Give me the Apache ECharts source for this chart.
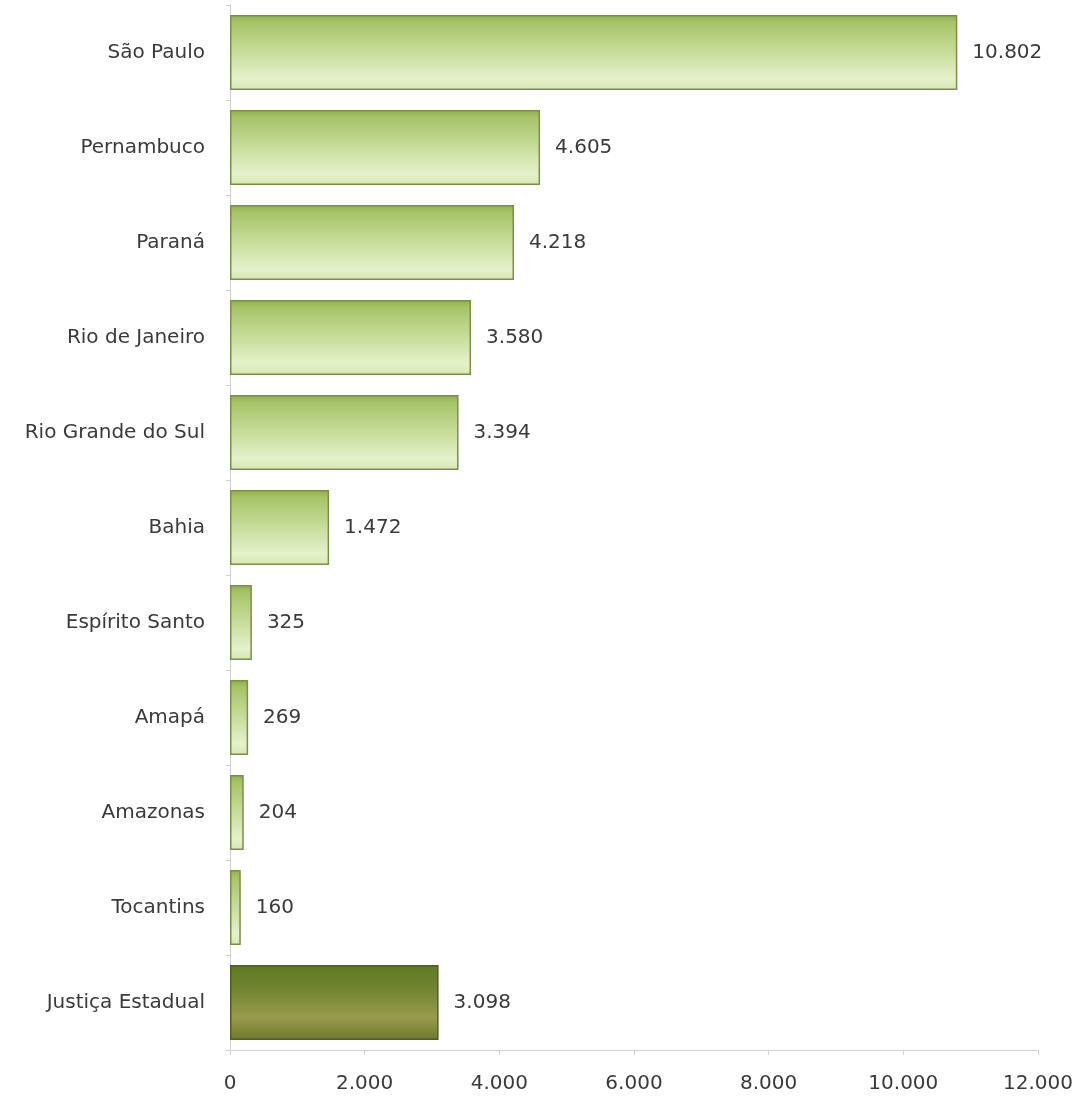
<!DOCTYPE html>
<html>
<head>
<meta charset="utf-8">
<script src="https://cdn.jsdelivr.net/npm/echarts@6/dist/echarts.min.js"></script>
<style>
html,body{margin:0;padding:0;background:#fff;}
#chart{width:1081px;height:1101px;}
</style>
</head>
<body>
<div id="chart"></div>
<script>
// States ranked by count, with the state-court total last
const categories = ['São Paulo','Pernambuco','Paraná','Rio de Janeiro','Rio Grande do Sul','Bahia','Espírito Santo','Amapá','Amazonas','Tocantins','Justiça Estadual'];
const values = [10802, 4605, 4218, 3580, 3394, 1472, 325, 269, 204, 160, 3098];
const xTicks = [0, 2000, 4000, 6000, 8000, 10000, 12000];

const fmt = v => String(v).replace(/\B(?=(\d{3})+(?!\d))/g, '.');
const FONT = 'DejaVu Sans';
const TEXT = '#3a3a3a';

const lightGreen = {
  type: 'linear', x: 0, y: 0, x2: 0, y2: 1,
  colorStops: [
    { offset: 0, color: '#8fb04a' },
    { offset: 0.1, color: '#a6c468' },
    { offset: 0.5, color: '#c8dd9b' },
    { offset: 0.85, color: '#e5f1cb' },
    { offset: 1, color: '#d6e7ad' }
  ]
};
const darkOlive = {
  type: 'linear', x: 0, y: 0, x2: 0, y2: 1,
  colorStops: [
    { offset: 0, color: '#5f7a22' },
    { offset: 0.3, color: '#6f8430' },
    { offset: 0.7, color: '#9a9a4c' },
    { offset: 1, color: '#6d7a2c' }
  ]
};

const chart = echarts.init(document.getElementById('chart'));
chart.setOption({
  backgroundColor: '#ffffff',
  animation: false,
  grid: { left: 230, right: 43, top: 5, bottom: 51 },
  xAxis: {
    type: 'value', min: xTicks[0], max: xTicks[xTicks.length - 1], interval: 2000,
    axisLine: { show: true, lineStyle: { color: '#d0d0d0' } },
    axisTick: { show: true, length: 5, lineStyle: { color: '#d0d0d0' } },
    splitLine: { show: false },
    axisLabel: { color: TEXT, fontSize: 20, fontFamily: FONT, margin: 24, formatter: fmt }
  },
  yAxis: {
    type: 'category', data: categories, inverse: true,
    axisLine: { show: true, lineStyle: { color: '#d0d0d0' } },
    axisTick: { show: true, length: 4, lineStyle: { color: '#d0d0d0' } },
    axisLabel: { color: TEXT, fontSize: 20, fontFamily: FONT, margin: 25 }
  },
  series: [{
    type: 'bar',
    barWidth: 75,
    data: values.map((v, i) => ({
      value: v,
      itemStyle: {
        color: i === values.length - 1 ? darkOlive : lightGreen,
        borderColor: i === values.length - 1 ? '#4f5f1e' : '#7b8f4a',
        borderWidth: 1.5
      }
    })),
    label: {
      show: true, position: 'right', distance: 15,
      color: TEXT, fontSize: 20, fontFamily: FONT,
      formatter: p => fmt(p.value)
    }
  }]
});
</script>
</body>
</html>
